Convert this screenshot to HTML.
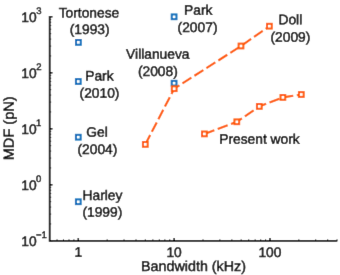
<!DOCTYPE html>
<html><head><meta charset="utf-8"><title>MDF vs Bandwidth</title>
<style>html,body{margin:0;padding:0;background:#fff}.t text{font-family:"Liberation Sans",Arial,Helvetica,sans-serif}body{width:340px;height:275px;overflow:hidden}</style></head>
<body>
<svg width="340" height="275" viewBox="0 0 340 275" style="display:block">
<defs><filter id="sf" x="0" y="0" width="340" height="275" filterUnits="userSpaceOnUse"><feConvolveMatrix order="3" kernelMatrix="0 1 0 1 10 1 0 1 0" edgeMode="duplicate" preserveAlpha="true"/></filter></defs>
<rect width="340" height="275" fill="#fff"/>
<g filter="url(#sf)">
<rect width="340" height="275" fill="#fff"/>
<g stroke="#000" stroke-width="1.8" fill="none" stroke-linecap="butt">
<path d="M49.7 15.9 V240.8 H337.3"/>
</g>
<g stroke="#000" stroke-width="1.5" fill="none">
<path d="M49.7 240.80 h2.8"/>
<path d="M49.7 223.94 h1.5" stroke-width="0.9"/>
<path d="M49.7 214.08 h1.5" stroke-width="0.9"/>
<path d="M49.7 207.08 h1.5" stroke-width="0.9"/>
<path d="M49.7 201.66 h1.5" stroke-width="0.9"/>
<path d="M49.7 197.22 h1.5" stroke-width="0.9"/>
<path d="M49.7 193.47 h1.5" stroke-width="0.9"/>
<path d="M49.7 190.23 h1.5" stroke-width="0.9"/>
<path d="M49.7 187.36 h1.5" stroke-width="0.9"/>
<path d="M49.7 184.80 h2.8"/>
<path d="M49.7 167.94 h1.5" stroke-width="0.9"/>
<path d="M49.7 158.08 h1.5" stroke-width="0.9"/>
<path d="M49.7 151.08 h1.5" stroke-width="0.9"/>
<path d="M49.7 145.66 h1.5" stroke-width="0.9"/>
<path d="M49.7 141.22 h1.5" stroke-width="0.9"/>
<path d="M49.7 137.47 h1.5" stroke-width="0.9"/>
<path d="M49.7 134.23 h1.5" stroke-width="0.9"/>
<path d="M49.7 131.36 h1.5" stroke-width="0.9"/>
<path d="M49.7 128.80 h2.8"/>
<path d="M49.7 111.94 h1.5" stroke-width="0.9"/>
<path d="M49.7 102.08 h1.5" stroke-width="0.9"/>
<path d="M49.7 95.08 h1.5" stroke-width="0.9"/>
<path d="M49.7 89.66 h1.5" stroke-width="0.9"/>
<path d="M49.7 85.22 h1.5" stroke-width="0.9"/>
<path d="M49.7 81.47 h1.5" stroke-width="0.9"/>
<path d="M49.7 78.23 h1.5" stroke-width="0.9"/>
<path d="M49.7 75.36 h1.5" stroke-width="0.9"/>
<path d="M49.7 72.80 h2.8"/>
<path d="M49.7 55.94 h1.5" stroke-width="0.9"/>
<path d="M49.7 46.08 h1.5" stroke-width="0.9"/>
<path d="M49.7 39.08 h1.5" stroke-width="0.9"/>
<path d="M49.7 33.66 h1.5" stroke-width="0.9"/>
<path d="M49.7 29.22 h1.5" stroke-width="0.9"/>
<path d="M49.7 25.47 h1.5" stroke-width="0.9"/>
<path d="M49.7 22.23 h1.5" stroke-width="0.9"/>
<path d="M49.7 19.36 h1.5" stroke-width="0.9"/>
<path d="M49.7 16.80 h2.8"/>
<path d="M78.30 240.8 v-2.8"/>
<path d="M174.15 240.8 v-2.8"/>
<path d="M270.00 240.8 v-2.8"/>
<path d="M49.45 240.8 v-1.5" stroke-width="0.9"/>
<path d="M57.04 240.8 v-1.5" stroke-width="0.9"/>
<path d="M63.45 240.8 v-1.5" stroke-width="0.9"/>
<path d="M69.01 240.8 v-1.5" stroke-width="0.9"/>
<path d="M73.91 240.8 v-1.5" stroke-width="0.9"/>
<path d="M107.15 240.8 v-1.5" stroke-width="0.9"/>
<path d="M124.03 240.8 v-1.5" stroke-width="0.9"/>
<path d="M136.01 240.8 v-1.5" stroke-width="0.9"/>
<path d="M145.30 240.8 v-1.5" stroke-width="0.9"/>
<path d="M152.89 240.8 v-1.5" stroke-width="0.9"/>
<path d="M159.30 240.8 v-1.5" stroke-width="0.9"/>
<path d="M164.86 240.8 v-1.5" stroke-width="0.9"/>
<path d="M169.76 240.8 v-1.5" stroke-width="0.9"/>
<path d="M203.00 240.8 v-1.5" stroke-width="0.9"/>
<path d="M219.88 240.8 v-1.5" stroke-width="0.9"/>
<path d="M231.86 240.8 v-1.5" stroke-width="0.9"/>
<path d="M241.15 240.8 v-1.5" stroke-width="0.9"/>
<path d="M248.74 240.8 v-1.5" stroke-width="0.9"/>
<path d="M255.15 240.8 v-1.5" stroke-width="0.9"/>
<path d="M260.71 240.8 v-1.5" stroke-width="0.9"/>
<path d="M265.61 240.8 v-1.5" stroke-width="0.9"/>
<path d="M298.85 240.8 v-1.5" stroke-width="0.9"/>
<path d="M315.73 240.8 v-1.5" stroke-width="0.9"/>
<path d="M327.71 240.8 v-1.5" stroke-width="0.9"/>
<path d="M337.00 240.8 v-1.5" stroke-width="0.9"/>
</g>
<g class="t" fill="#000" stroke="#000" stroke-width="0.45" transform="rotate(0.03 170 137)">
<text x="21.3" y="22.20" font-size="13.8">10</text>
<text x="36.1" y="14.00" font-size="9.5">3</text>
<text x="21.3" y="78.20" font-size="13.8">10</text>
<text x="36.1" y="70.00" font-size="9.5">2</text>
<text x="21.3" y="134.20" font-size="13.8">10</text>
<text x="36.1" y="126.00" font-size="9.5">1</text>
<text x="21.3" y="190.20" font-size="13.8">10</text>
<text x="36.1" y="182.00" font-size="9.5">0</text>
<text x="21.3" y="246.20" font-size="13.8">10</text>
<text x="36.1" y="238.00" font-size="9.5">−1</text>
<text x="78.30" y="256.9" font-size="13.8" text-anchor="middle">1</text>
<text x="174.15" y="256.9" font-size="13.8" text-anchor="middle">10</text>
<text x="270.00" y="256.9" font-size="13.8" text-anchor="middle">100</text>
<text x="193.6" y="271.0" font-size="14.3" text-anchor="middle">Bandwidth (kHz)</text>
<text transform="translate(13.8 160.4) rotate(-90)" font-size="14.6">MDF (pN)</text>
<text x="88.9" y="17.5" font-size="13.8" text-anchor="middle">Tortonese</text>
<text x="89.6" y="34.1" font-size="13.8" text-anchor="middle">(1993)</text>
<text x="99.4" y="80.5" font-size="13.8" text-anchor="middle">Park</text>
<text x="99.5" y="97.9" font-size="13.8" text-anchor="middle">(2010)</text>
<text x="97.1" y="136.75" font-size="13.8" text-anchor="middle">Gel</text>
<text x="97.4" y="154.15" font-size="13.8" text-anchor="middle">(2004)</text>
<text x="102.5" y="200" font-size="13.8" text-anchor="middle">Harley</text>
<text x="102.4" y="216.75" font-size="13.8" text-anchor="middle">(1999)</text>
<text x="198.2" y="14.7" font-size="13.8" text-anchor="middle">Park</text>
<text x="197.5" y="32.1" font-size="13.8" text-anchor="middle">(2007)</text>
<text x="157.8" y="58.8" font-size="13.8" text-anchor="middle">Villanueva</text>
<text x="157.8" y="75.9" font-size="13.8" text-anchor="middle">(2008)</text>
<text x="290.3" y="24.1" font-size="13.8" text-anchor="middle">Doll</text>
<text x="290.4" y="41.8" font-size="13.8" text-anchor="middle">(2009)</text>
<text x="259.5" y="143.8" font-size="13.8" text-anchor="middle">Present work</text>
</g>
<g stroke="#ff5c00" stroke-width="2.15" fill="none" stroke-dasharray="10.6 3.6">
<path d="M145.3 144.4 L174.2 88.7" stroke-dashoffset="0.00"/>
<path d="M174.2 88.7 L241.0 46.0" stroke-dashoffset="4.40"/>
<path d="M241.0 46.0 L269.4 26.2" stroke-dashoffset="12.50"/>
<path d="M204.4 133.9 L236.8 121.8" stroke-dashoffset="0.00"/>
<path d="M236.8 121.8 L259.3 106.4" stroke-dashoffset="4.40"/>
<path d="M259.3 106.4 L282.9 97.4" stroke-dashoffset="3.27"/>
<path d="M282.9 97.4 L301.3 94.5" stroke-dashoffset="0.12"/>
</g>
<rect x="76.03" y="40.02" width="4.75" height="4.75" fill="#fff" stroke="#0070bc" stroke-width="2.0"/>
<rect x="75.92" y="79.12" width="4.75" height="4.75" fill="#fff" stroke="#0070bc" stroke-width="2.0"/>
<rect x="75.92" y="134.82" width="4.75" height="4.75" fill="#fff" stroke="#0070bc" stroke-width="2.0"/>
<rect x="75.92" y="199.38" width="4.75" height="4.75" fill="#fff" stroke="#0070bc" stroke-width="2.0"/>
<rect x="171.72" y="14.43" width="4.75" height="4.75" fill="#fff" stroke="#0070bc" stroke-width="2.0"/>
<rect x="171.72" y="80.83" width="4.75" height="4.75" fill="#fff" stroke="#0070bc" stroke-width="2.0"/>
<rect x="142.93" y="142.03" width="4.75" height="4.75" fill="#fff" stroke="#ff5c00" stroke-width="2.0"/>
<rect x="171.82" y="86.33" width="4.75" height="4.75" fill="#fff" stroke="#ff5c00" stroke-width="2.0"/>
<rect x="238.62" y="43.62" width="4.75" height="4.75" fill="#fff" stroke="#ff5c00" stroke-width="2.0"/>
<rect x="267.02" y="23.82" width="4.75" height="4.75" fill="#fff" stroke="#ff5c00" stroke-width="2.0"/>
<rect x="202.03" y="131.53" width="4.75" height="4.75" fill="#fff" stroke="#ff5c00" stroke-width="2.0"/>
<rect x="234.43" y="119.42" width="4.75" height="4.75" fill="#fff" stroke="#ff5c00" stroke-width="2.0"/>
<rect x="256.93" y="104.03" width="4.75" height="4.75" fill="#fff" stroke="#ff5c00" stroke-width="2.0"/>
<rect x="280.52" y="95.03" width="4.75" height="4.75" fill="#fff" stroke="#ff5c00" stroke-width="2.0"/>
<rect x="298.93" y="92.12" width="4.75" height="4.75" fill="#fff" stroke="#ff5c00" stroke-width="2.0"/>
</g>
</svg>
</body></html>
